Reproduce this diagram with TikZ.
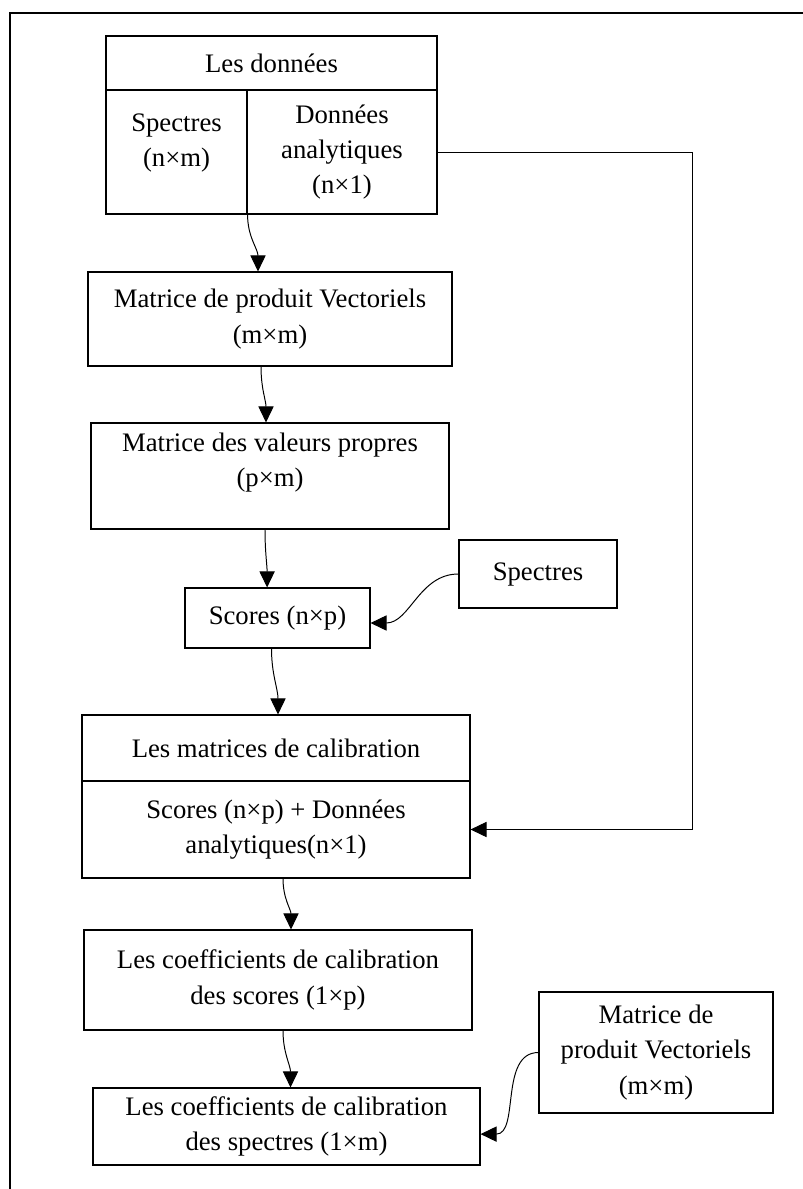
\documentclass[tikz,border=0pt]{standalone}
\usepackage{fontspec}
\setmainfont{Liberation Serif}
\usetikzlibrary{arrows.meta,positioning,calc}

\begin{document}
\begin{tikzpicture}[
        box/.style={draw, line width=0.8pt, align=center, inner sep=2pt,
          font=\fontsize{19}{25}\selectfont},
        flow/.style={-{Triangle[length=0.4cm,width=0.38cm]}, line width=0.7pt}
      ]
        \useasboundingbox (0,0) rectangle (20.075,-29.725);
        \draw[line width=1.4pt] (0.25,-29.725) -- (0.25,-0.325) -- (20.075,-0.325);

        \node[box, minimum width=8.275cm, minimum height=1.35cm] (donnees) at (6.7875,-1.575) {Les données};
        \node[box, minimum width=3.525cm, minimum height=3.1cm, text depth=0.6cm] (spec) at (4.4125,-3.8) {Spectres\\(n×m)};
        \node[box, minimum width=4.75cm, minimum height=3.1cm] (anal) at (8.55,-3.8) {Données\\analytiques\\(n×1)};
        \node[box, minimum width=9.1cm, minimum height=2.35cm] (prod) at (6.75,-7.975) {Matrice de produit Vectoriels\\(m×m)};
        \node[box, minimum width=8.95cm, minimum height=2.65cm, text depth=0.8cm] (vp) at (6.75,-11.9) {Matrice des valeurs propres\\(p×m)};
        \node[box, minimum width=3.95cm, minimum height=1.7cm] (spec2) at (13.45,-14.35) {Spectres};
        \node[box, minimum width=4.625cm, minimum height=1.5cm] (scores) at (6.9375,-15.45) {Scores (n×p)};
        \node[box, minimum width=9.7cm, minimum height=1.65cm] (calhead) at (6.9,-18.7) {Les matrices de calibration};
        \node[box, minimum width=9.7cm, minimum height=2.425cm] (calbody) at (6.9,-20.7375) {Scores (n×p) + Données\\analytiques(n×1)};
        \node[box, minimum width=9.7cm, minimum height=2.5cm] (coefsc) at (6.95,-24.5) {Les coefficients de calibration\\des scores (1×p)};
        \node[box, minimum width=9.675cm, minimum height=1.925cm] (coefsp) at (7.1625,-28.1625) {Les coefficients de calibration\\des spectres (1×m)};
        \node[box, minimum width=5.85cm, minimum height=3.025cm] (prod2) at (16.4,-26.3125) {Matrice de\\produit Vectoriels\\(m×m)};

        \coordinate (turn) at (17.3,-20.7375);
        \draw[line width=0.7pt] (anal.east) -| (turn);
        \draw[flow] (turn) -- (calbody.east);

        \draw[flow] (spec.south east) to[out=-90,in=90] ([xshift=-0.3cm]prod.north);
        \draw[flow] ([xshift=-0.225cm]prod.south) to[out=-90,in=90] ([xshift=-0.1cm]vp.north);
        \draw[flow] ([xshift=-0.125cm]vp.south) to[out=-90,in=90] ([xshift=-0.26cm]scores.north);
        \draw[flow] ([xshift=-0.15cm]scores.south) to[out=-90,in=90] ([xshift=0.05cm]calhead.north);
        \draw[flow] ([xshift=0.175cm]calbody.south) to[out=-90,in=90] ([xshift=0.325cm]coefsc.north);
        \draw[flow] ([xshift=0.125cm]coefsc.south) to[out=-90,in=90] ([xshift=0.1cm]coefsp.north);
        \draw[flow] (spec2.west) to[out=180,in=0] ([yshift=-0.125cm]scores.east);
        \draw[flow] (prod2.west) to[out=180,in=0] ([yshift=-0.19cm]coefsp.east);
      \end{tikzpicture}
\end{document}
